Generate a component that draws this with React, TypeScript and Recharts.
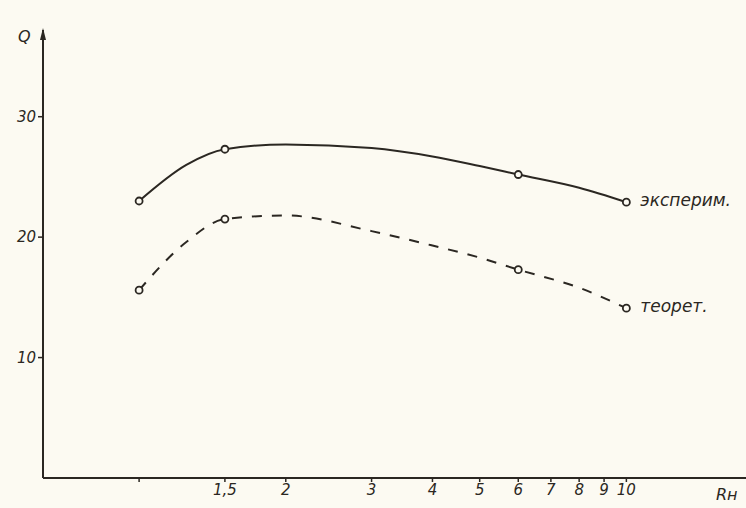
import { LineChart, Line, XAxis, YAxis, LabelList, Customized } from "recharts";

// Rн values (log axis) and curve readings of Q
const rn = [1, 1.25, 1.5, 2, 3, 4, 5, 6, 8, 10];
const experimental = [23.0, 26.0, 27.3, 27.7, 27.4, 26.7, 25.9, 25.2, 24.1, 22.9];
const theoretical = [15.6, 19.6, 21.5, 21.8, 20.5, 19.3, 18.3, 17.3, 15.8, 14.1];
const measured = [true, false, true, false, false, false, false, true, false, true];

const xTicks = [1, 1.5, 2, 3, 4, 5, 6, 7, 8, 9, 10];
const yTicks = [10, 20, 30];

const data = rn.map((r, i) => ({
  rn: r,
  exp: experimental[i],
  theor: theoretical[i],
  measured: measured[i],
}));

const ink = "#2b2722";
const font = "'DejaVu Sans', sans-serif";

const MarkDot = (props: any) => {
  const { cx, cy, payload, index } = props;
  if (!payload.measured) return <g key={index} />;
  return <circle key={index} cx={cx} cy={cy} r={3.5} fill="#fcfaf2" stroke={ink} strokeWidth={1.8} />;
};

const endLabel = (text: string, dy: number) => (props: any) => {
  const { x, y, index } = props;
  if (index !== rn.length - 1) return null;
  return (
    <text x={x + 14} y={y + dy} fill={ink} fontSize={17} fontStyle="italic" fontFamily={font}>
      {text}
    </text>
  );
};

const Extras = () => (
  <g fill={ink} fontFamily={font} fontStyle="italic">
    <text x={18} y={42} fontSize={16}>Q</text>
    <text x={716} y={500} fontSize={16}>Rн</text>
    <path d="M43 28 L40 40 L46 40 Z" fill={ink} />
  </g>
);

export default function App() {
  return (
    <div style={{ position: "absolute", left: 0, top: 0, width: 746, height: 508, background: "#fcfaf2" }}>
      <LineChart width={746} height={508} data={data} margin={{ top: 30, right: 0, left: 0, bottom: 0 }}>
        <XAxis
          dataKey="rn"
          type="number"
          scale="log"
          domain={[0.635, 17.6]}
          allowDataOverflow
          ticks={xTicks}
          interval={0}
          tickFormatter={(v: number) => (v === 1 ? "" : v === 1.5 ? "1,5" : String(v))}
          axisLine={{ stroke: ink, strokeWidth: 2 }}
          tickLine={{ stroke: ink, strokeWidth: 1.5 }}
          tickSize={4}
          tick={{ fill: ink, fontSize: 15, fontStyle: "italic", fontFamily: font }}
          height={30}
        />
        <YAxis
          type="number"
          domain={[0, 37.2]}
          ticks={yTicks}
          allowDataOverflow
          width={43}
          axisLine={{ stroke: ink, strokeWidth: 2 }}
          tickLine={{ stroke: ink, strokeWidth: 1.5 }}
          tickSize={5}
          tick={{ fill: ink, fontSize: 15, fontStyle: "italic", fontFamily: font }}
        />
        <Line
          type="monotone"
          dataKey="exp"
          stroke={ink}
          strokeWidth={2}
          dot={<MarkDot />}
          activeDot={false}
          isAnimationActive={false}
        >
          <LabelList dataKey="exp" content={endLabel("эксперим.", 4)} />
        </Line>
        <Line
          type="monotone"
          dataKey="theor"
          stroke={ink}
          strokeWidth={2}
          strokeDasharray="10 10"
          dot={<MarkDot />}
          activeDot={false}
          isAnimationActive={false}
        >
          <LabelList dataKey="theor" content={endLabel("теорет.", 4)} />
        </Line>
        <Customized component={<Extras />} />
      </LineChart>
    </div>
  );
}
